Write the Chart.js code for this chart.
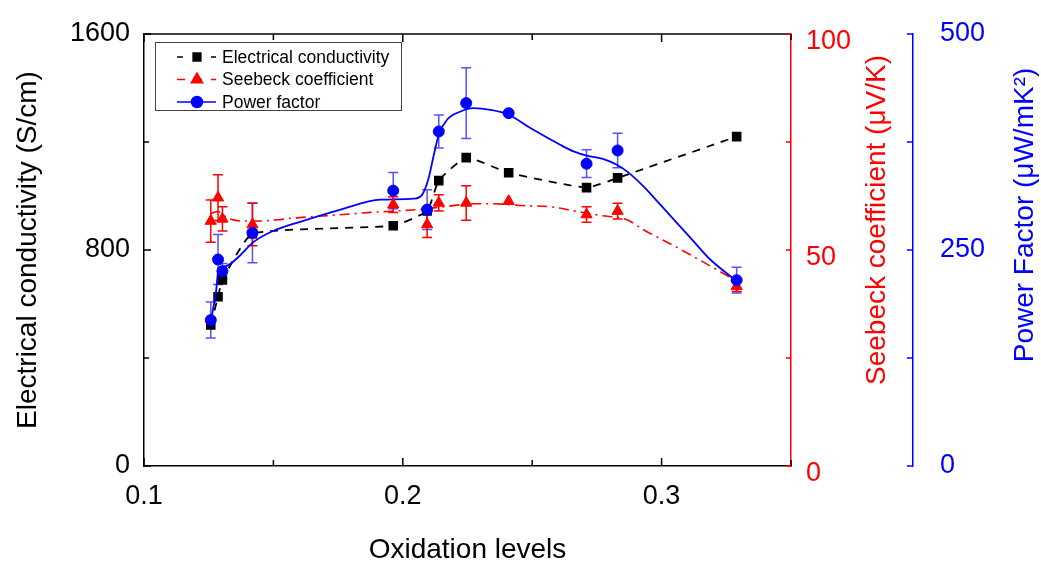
<!DOCTYPE html>
<html>
<head>
<meta charset="utf-8">
<script src="https://cdn.jsdelivr.net/npm/chart.js@4.4.1/dist/chart.umd.min.js"></script>
<style>
  html, body { margin: 0; padding: 0; background: #fff; }
  #wrap { width: 1041px; height: 564px; }
</style>
</head>
<body>
<div id="wrap"><canvas id="chart"></canvas></div>
<script>
// measured samples (oxidation level on x)
const oxidation = [0.1258, 0.1286, 0.1303, 0.1419, 0.1963, 0.2094, 0.2139, 0.2245, 0.2409, 0.2710, 0.2830, 0.3290];
const conductivity = [522, 627, 689, 860, 890, 945, 1057, 1142, 1086, 1031, 1067, 1220];
const seebeck = [56.7, 62.1, 57.2, 55.9, 60.5, 55.9, 60.9, 60.9, 61.3, 58.2, 59.0, 41.6];
const seebeckErr = [4.9, 5.3, 2.8, 4.9, 1.8, 3.0, 1.9, 4.0, 0, 1.8, 1.8, 1.2];
const powerFactor = [168.9, 239.0, 225.5, 269.9, 318.7, 296.8, 387.2, 420.0, 408.4, 349.9, 365.2, 215.1];
const powerFactorErr = [20.8, 29, 9, 34.6, 21, 23, 19, 41, 0, 16, 20, 15];

// smoothed guide curves
const sbFitX = [0.1258, 0.1285, 0.1323, 0.1374, 0.1439, 0.1516, 0.1579, 0.1721, 0.1876, 0.1991, 0.2068, 0.2171, 0.2274, 0.2351, 0.2454, 0.2570, 0.2666, 0.2763, 0.2866, 0.2930, 0.3059, 0.3188, 0.3290];
const sbFitY = [58.4, 58.9, 57.4, 56.7, 56.7, 57.0, 57.4, 58.0, 58.7, 59.1, 59.4, 60.1, 60.7, 60.7, 60.3, 60.0, 59.0, 58.0, 57.0, 54.7, 50.6, 46.3, 42.8];
const pfFitX = [0.1258, 0.1278, 0.1288, 0.1316, 0.1368, 0.1419, 0.1496, 0.1606, 0.1760, 0.1914, 0.2043, 0.2075, 0.2100, 0.2120, 0.2139, 0.2171, 0.2223, 0.2274, 0.2338, 0.2409, 0.2493, 0.2608, 0.2660, 0.2711, 0.2776, 0.2827, 0.2866, 0.2930, 0.2995, 0.3059, 0.3123, 0.3188, 0.3290];
const pfFitY = [167.8, 200.9, 227.5, 231.3, 242.8, 258.3, 271.7, 282.9, 296.8, 308.3, 309.5, 314.1, 333.4, 360.3, 383.4, 400.7, 410.3, 414.2, 412.2, 406.5, 391.1, 371.8, 364.1, 359.1, 355.3, 348.7, 341.0, 323.7, 302.5, 281.4, 260.2, 239.0, 214.0];

const xTickLabels = ["0.1", "0.2", "0.3"];
const ecTickLabels = ["0", "800", "1600"];
const sbTickLabels = ["0", "50", "100"];
const pfTickLabels = ["0", "250", "500"];

const FONT = "Arial, 'Liberation Sans', sans-serif";
const RED = "#ff0000";
const BLUE = "#0000ff";

const pts = (xs, ys) => xs.map((x, i) => ({ x: x, y: ys[i] }));
const pick = (labels) => (v) => {
  const s = String(Math.round(v * 1000) / 1000);
  return labels.includes(s) ? s : "";
};
const fixWidth = (w) => (s) => { s.width = w; s.paddingTop = 0; s.paddingBottom = 0; };

// error bars, drawn under the markers
const errorBars = {
  id: "errorBars",
  beforeDatasetsDraw(chart) {
    const ctx = chart.ctx;
    chart.data.datasets.forEach((ds, i) => {
      if (!ds.errors) return;
      const meta = chart.getDatasetMeta(i);
      const scale = chart.scales[ds.yAxisID];
      ctx.save();
      ctx.strokeStyle = ds.errColor;
      ctx.lineWidth = 1.5;
      meta.data.forEach((pt, j) => {
        const e = ds.errors[j];
        if (!e) return;
        const v = ds.data[j].y;
        const top = scale.getPixelForValue(v + e);
        const bot = scale.getPixelForValue(v - e);
        ctx.beginPath();
        ctx.moveTo(pt.x, top);
        ctx.lineTo(pt.x, bot);
        ctx.moveTo(pt.x - 5, top);
        ctx.lineTo(pt.x + 5, top);
        ctx.moveTo(pt.x - 5, bot);
        ctx.lineTo(pt.x + 5, bot);
        ctx.stroke();
      });
      ctx.restore();
    });
  }
};

// inward ticks, top frame, right titles, legend box
const frame = {
  id: "frame",
  afterDraw(chart) {
    const ctx = chart.ctx;
    const a = chart.chartArea;
    const sx = chart.scales.x, sy = chart.scales.y, s1 = chart.scales.y1, s2 = chart.scales.y2;
    ctx.save();
    ctx.lineWidth = 1.5;

    ctx.strokeStyle = "#000";
    ctx.beginPath();
    ctx.moveTo(a.left, a.top);
    ctx.lineTo(a.right, a.top);
    ctx.stroke();

    ctx.beginPath();
    sx.ticks.forEach((t) => {
      const px = sx.getPixelForValue(t.value);
      const len = t.label !== "" ? 8 : 6;
      ctx.moveTo(px, a.bottom);
      ctx.lineTo(px, a.bottom - len);
      ctx.moveTo(px, a.top);
      ctx.lineTo(px, a.top + len);
    });
    sy.ticks.forEach((t) => {
      const py = sy.getPixelForValue(t.value);
      ctx.moveTo(a.left, py);
      ctx.lineTo(a.left + (t.label !== "" ? 7 : 5), py);
    });
    ctx.stroke();

    ctx.strokeStyle = RED;
    ctx.beginPath();
    s1.ticks.forEach((t) => {
      const py = s1.getPixelForValue(t.value);
      ctx.moveTo(s1.left, py);
      ctx.lineTo(s1.left - 5, py);
    });
    ctx.stroke();

    ctx.strokeStyle = BLUE;
    ctx.beginPath();
    s2.ticks.forEach((t) => {
      const py = s2.getPixelForValue(t.value);
      ctx.moveTo(s2.left, py);
      ctx.lineTo(s2.left - 6, py);
    });
    ctx.stroke();

    // right axis titles read bottom to top
    ctx.font = "28px " + FONT;
    ctx.textAlign = "center";
    ctx.textBaseline = "middle";
    [[s1, "Seebeck coefficient (\u03bcV/K)", RED, 36, 220], [s2, "Power Factor (\u03bcW/mK\u00b2)", BLUE, 16, 215]].forEach(([s, text, color, off, cy]) => {
      ctx.save();
      ctx.translate(s.right - off, cy);
      ctx.rotate(-Math.PI / 2);
      ctx.fillStyle = color;
      ctx.fillText(text, 0, 0);
      ctx.restore();
    });

    // legend
    ctx.strokeStyle = "#444";
    ctx.lineWidth = 1;
    ctx.strokeRect(155.5, 42.5, 246, 68);
    const items = [
      { label: "Electrical conductivity", color: "#000", style: "rect", r: 5.5, dash: [6, 11] },
      { label: "Seebeck coefficient", color: RED, style: "triangle", r: 6.5, dash: [8, 9] },
      { label: "Power factor", color: BLUE, style: "circle", r: 5.5, dash: [] }
    ];
    ctx.font = "17.5px " + FONT;
    ctx.textAlign = "left";
    items.forEach((it, i) => {
      const y = 57 + i * 22.5;
      ctx.strokeStyle = it.color;
      ctx.fillStyle = it.color;
      ctx.lineWidth = 1.5;
      ctx.setLineDash(it.dash);
      ctx.beginPath();
      ctx.moveTo(177, y);
      ctx.lineTo(216, y);
      ctx.stroke();
      ctx.setLineDash([]);
      Chart.helpers.drawPoint(ctx, { pointStyle: it.style, radius: it.r, rotation: 0, borderWidth: 1 }, 197, y);
      ctx.fillStyle = "#000";
      ctx.fillText(it.label, 222, y + 1);
    });
    ctx.restore();
  }
};

new Chart(document.getElementById("chart"), {
  type: "line",
  data: {
    datasets: [
      {
        label: "Power factor",
        data: pts(oxidation, powerFactor),
        yAxisID: "y2",
        showLine: false,
        pointStyle: "circle",
        pointRadius: 5.5,
        backgroundColor: BLUE,
        borderColor: BLUE,
        errors: powerFactorErr,
        errColor: "rgba(40,40,255,0.8)"
      },
      {
        label: "Seebeck coefficient",
        data: pts(oxidation, seebeck),
        yAxisID: "y1",
        showLine: false,
        pointStyle: "triangle",
        pointRadius: 6.5,
        backgroundColor: RED,
        borderColor: RED,
        errors: seebeckErr,
        errColor: RED
      },
      {
        label: "Power factor fit",
        data: pts(pfFitX, pfFitY),
        yAxisID: "y2",
        borderColor: BLUE,
        borderWidth: 1.8,
        pointRadius: 0,
        cubicInterpolationMode: "monotone"
      },
      {
        label: "Seebeck fit",
        data: pts(sbFitX, sbFitY),
        yAxisID: "y1",
        borderColor: RED,
        borderWidth: 1.6,
        borderDash: [10, 5, 2, 5],
        pointRadius: 0,
        cubicInterpolationMode: "monotone"
      },
      {
        label: "Electrical conductivity",
        data: pts(oxidation, conductivity),
        yAxisID: "y",
        borderColor: "#000",
        backgroundColor: "#000",
        borderWidth: 1.8,
        borderDash: [8, 7],
        pointStyle: "rect",
        pointRadius: 5.5,
        tension: 0.15
      }
    ]
  },
  options: {
    responsive: true,
    maintainAspectRatio: false,
    animation: false,
    layout: { padding: { top: 34, left: 0, right: 0, bottom: 0 } },
    plugins: { legend: { display: false }, tooltip: { enabled: false } },
    scales: {
      x: {
        type: "linear",
        min: 0.1,
        max: 0.35,
        afterFit: (s) => { s.height = 98; s.paddingLeft = 0; s.paddingRight = 0; },
        grid: { drawOnChartArea: false, drawTicks: false },
        border: { color: "#000", width: 1.5 },
        ticks: { stepSize: 0.05, color: "#000", font: { family: FONT, size: 27 }, padding: 14, maxRotation: 0, callback: pick(xTickLabels) },
        title: { display: true, text: "Oxidation levels", color: "#000", font: { family: FONT, size: 28, lineHeight: 1 }, padding: { top: 0, bottom: 0 } }
      },
      y: {
        position: "left",
        min: 0,
        max: 1600,
        afterFit: fixWidth(144),
        grid: { drawOnChartArea: false, drawTicks: false },
        border: { color: "#000", width: 1.5 },
        ticks: { stepSize: 400, color: "#000", font: { family: FONT, size: 27 }, padding: 14, callback: pick(ecTickLabels) },
        title: { display: true, text: "Electrical conductivity (S/cm)", color: "#000", font: { family: FONT, size: 28, lineHeight: 1.2 }, padding: { top: 11, bottom: 0 } }
      },
      y1: {
        position: "right",
        min: 0,
        max: 100,
        afterFit: fixWidth(122),
        grid: { drawOnChartArea: false, drawTicks: false },
        border: { color: RED, width: 1.5 },
        ticks: { stepSize: 25, color: RED, font: { family: FONT, size: 27 }, padding: 15, labelOffset: 8, callback: pick(sbTickLabels) }
      },
      y2: {
        position: "right",
        min: 0,
        max: 500,
        afterFit: fixWidth(128),
        grid: { drawOnChartArea: false, drawTicks: false },
        border: { color: BLUE, width: 1.5 },
        ticks: { stepSize: 125, color: BLUE, font: { family: FONT, size: 27 }, padding: 27, callback: pick(pfTickLabels) }
      }
    }
  },
  plugins: [errorBars, frame]
});
</script>
</body>
</html>
